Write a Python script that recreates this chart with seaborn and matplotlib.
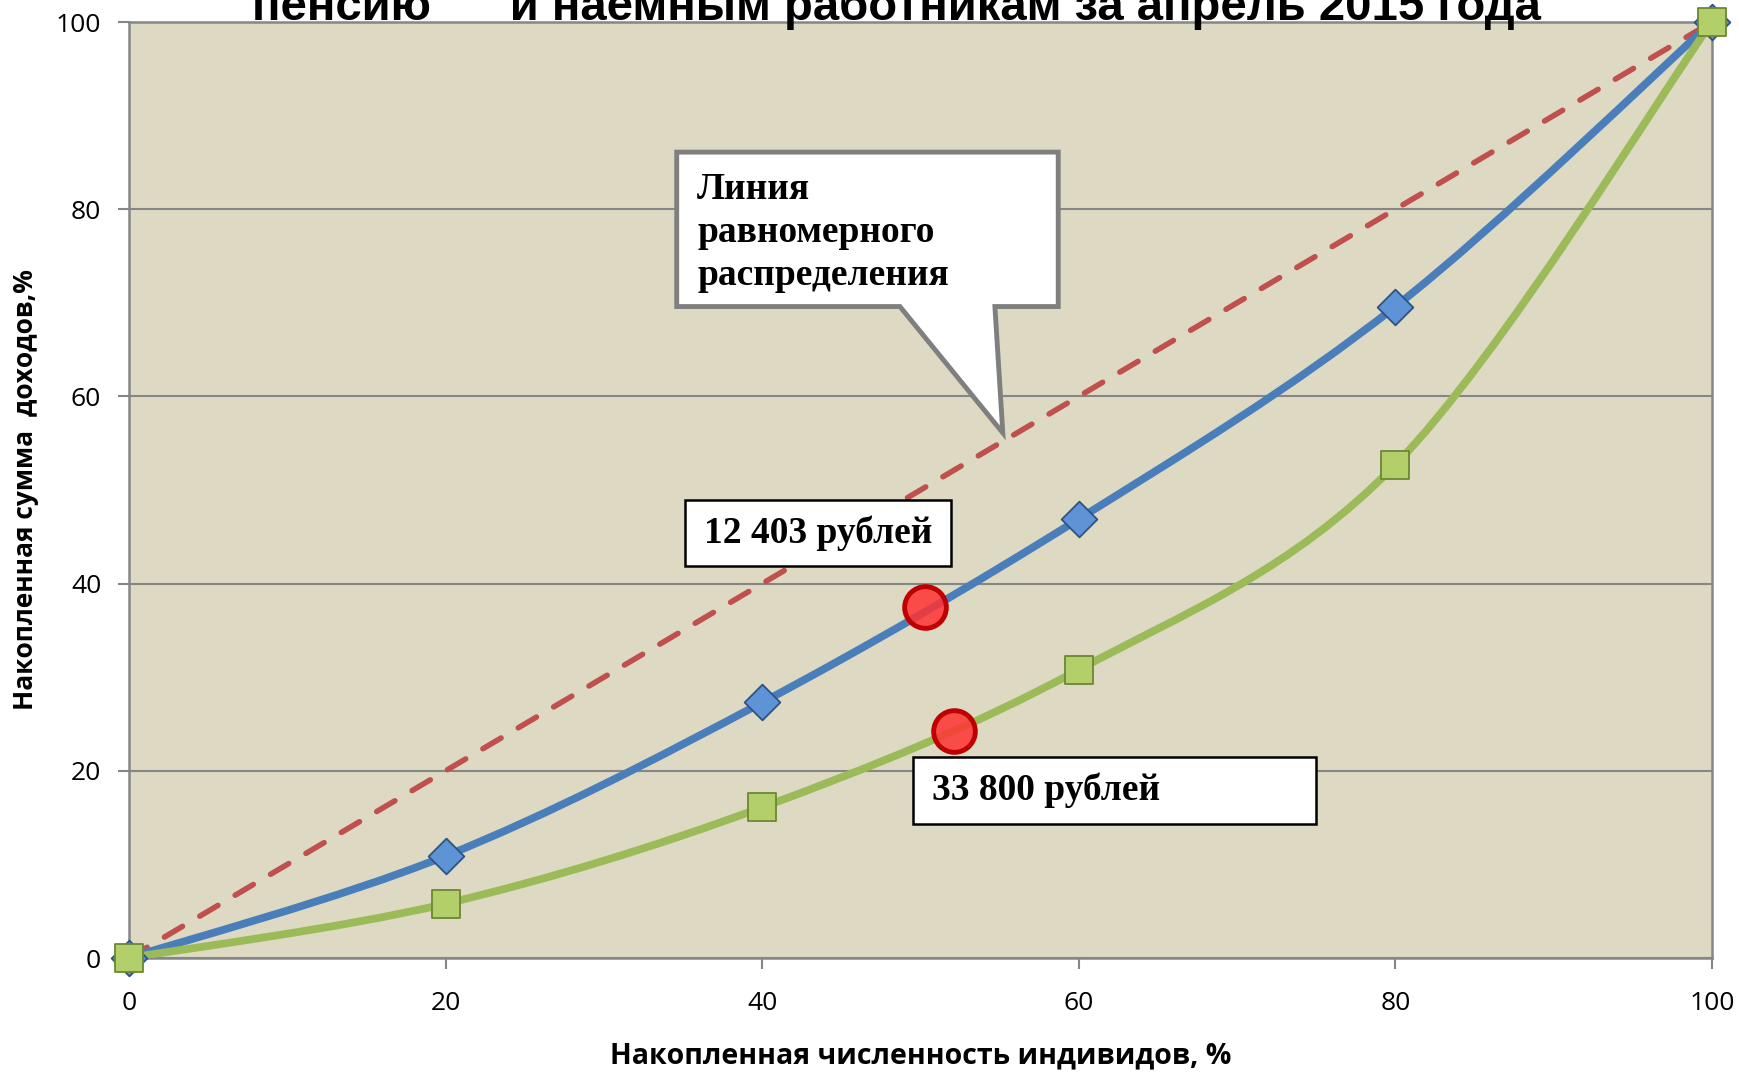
import matplotlib
matplotlib.use("Agg")
import matplotlib.pyplot as plt
import numpy as np
import pandas as pd
import seaborn as sns
from matplotlib.path import Path
from matplotlib.patches import PathPatch, Polygon, Rectangle

# cumulative share of population, %
population = [0, 20, 40, 60, 80, 100]
# cumulative share of income, % (two groups)
income_pension = [0, 10.9, 27.3, 46.9, 69.6, 100]
income_workers = [0, 5.8, 16.1, 30.8, 52.7, 100]
# equality line
equal_x = [0, 100]
equal_y = [0, 100]
# median points marked in red
median_x = [50.3, 52.1]
median_y = [37.5, 24.2]
median_labels = ["12 403 рублей", "33 800 рублей"]

title_text = "пенсию      и наемным работникам за апрель 2015 года"
callout_text = "Линия\nравномерного\nраспределения"
xlabel = "Накопленная численность индивидов, %"
ylabel = "Накопленная сумма  доходов,%"

BG = "#DDD9C3"
BLUE = "#4A7EBB"
GREEN = "#9BBB59"
RED = "#C0504D"
GRID = "#868686"

sns.set_style("white")
plt.rcParams["font.family"] = ["Open Sans", "DejaVu Sans"]
plt.rcParams["text.color"] = "black"
plt.rcParams["axes.labelcolor"] = "black"
plt.rcParams["xtick.labelcolor"] = "black"
plt.rcParams["ytick.labelcolor"] = "black"


def smooth_path(xs, ys):
    # Excel-like smoothed line: cubic Bezier through the points (Catmull-Rom)
    p = np.column_stack([xs, ys]).astype(float)
    ext = np.vstack([p[0], p, p[-1]])
    verts = [p[0]]
    codes = [Path.MOVETO]
    for i in range(len(p) - 1):
        p0, p1, p2, p3 = ext[i], ext[i + 1], ext[i + 2], ext[i + 3]
        c1 = p1 + (p2 - p0) / 6.0
        c2 = p2 - (p3 - p1) / 6.0
        verts += [c1, c2, p2]
        codes += [Path.CURVE4] * 3
    return Path(verts, codes)


fig = plt.figure(figsize=(17.4, 10.81), dpi=100)
ax = fig.add_axes([129 / 1740, 1 - 958 / 1081, (1712 - 129) / 1740, (958 - 22) / 1081])
ax.set_facecolor(BG)

df_eq = pd.DataFrame({"x": equal_x, "y": equal_y})
sns.lineplot(data=df_eq, x="x", y="y", ax=ax, color=RED, lw=4.0,
             dashes=False, zorder=3)
ax.lines[-1].set_dashes((3.8, 3.6))
ax.lines[-1].set_dash_capstyle("round")

for ys, col in [(income_pension, BLUE), (income_workers, GREEN)]:
    ax.add_patch(PathPatch(smooth_path(population, ys), fill=False, edgecolor=col,
                           lw=5.6, capstyle="round", joinstyle="round", zorder=4))

df = pd.DataFrame({"x": population, "p": income_pension, "w": income_workers})
sns.scatterplot(data=df, x="x", y="p", ax=ax, marker="D", s=330,
                color="#5E94D6", edgecolor="#2E5283", linewidth=1.3, zorder=5, clip_on=False)
sns.scatterplot(data=df, x="x", y="w", ax=ax, marker="s", s=400,
                color="#B3CF6A", edgecolor="#6C8733", linewidth=1.3, zorder=6, clip_on=False)

df_m = pd.DataFrame({"x": median_x, "y": median_y})
sns.scatterplot(data=df_m, x="x", y="y", ax=ax, marker="o", s=900,
                color=(1.0, 0.2, 0.2, 0.85), edgecolor="#C00000", linewidth=3.5, zorder=7)

ax.set_xlim(0, 100)
ax.set_ylim(0, 100)
ax.set_xticks(range(0, 101, 20))
ax.set_yticks(range(0, 101, 20))
ax.yaxis.grid(True, color=GRID, lw=1.5)
ax.set_axisbelow(True)
for s in ax.spines.values():
    s.set_color(GRID)
    s.set_linewidth(1.8)
ax.tick_params(axis="both", length=8, width=1.5, color=GRID, labelsize=19, direction="out")
ax.tick_params(axis="x", pad=16, bottom=True)
ax.tick_params(axis="y", pad=12, left=True)
ax.set_xlabel(xlabel, fontsize=20.5, fontweight="bold", labelpad=18)
ax.set_ylabel(ylabel, fontsize=19, fontweight="bold", labelpad=12)

# callout
serif = ["Liberation Serif", "DejaVu Serif"]
callout = [(34.6, 86.1), (58.7, 86.1), (58.7, 69.6), (54.7, 69.6), (55.2, 56.1),
           (48.7, 69.6), (34.6, 69.6)]
ax.add_patch(Polygon(callout, closed=True, facecolor="white", edgecolor="#7F7F7F",
                     lw=3.5, joinstyle="miter", zorder=8))
ax.text(35.9, 84.0, callout_text, fontsize=27, fontweight="bold", family=serif,
        va="top", ha="left", linespacing=1.3, zorder=9)

# median labels
boxes = [(35.1, 41.9, 16.8, 7.0), (49.5, 14.3, 25.5, 7.2)]
for (bx, by, bw, bh), lab in zip(boxes, median_labels):
    ax.add_patch(Rectangle((bx, by), bw, bh, facecolor="white", edgecolor="black",
                           lw=1.8, zorder=8))
    ax.text(bx + 1.2, by + bh / 2, lab, fontsize=27, fontweight="bold", family=serif,
            va="center", ha="left", zorder=9)

fig.text(896 / 1740, 1 - 20 / 1081, title_text, fontsize=34, fontweight="bold",
         family=["Liberation Sans", "DejaVu Sans"], ha="center", va="baseline")

fig.savefig("out.png", dpi=100)
